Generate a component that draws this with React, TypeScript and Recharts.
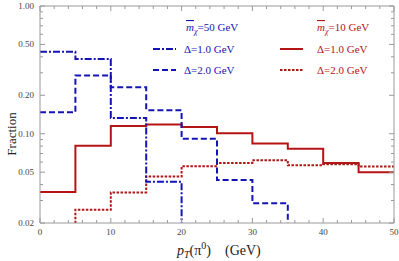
import { LineChart, Line, XAxis, YAxis } from "recharts"

// bin edges of the pT histogram (GeV); the last edge repeats the last bin so stepAfter closes it
const edges = [0, 5, 10, 15, 20, 25, 30, 35, 40, 45, 50]
const FLOOR = 0.005 // below the plotted range, used where a histogram falls off the axis

// mχ = 50 GeV
const m50d1: (number | null)[] = [0.438, 0.384, 0.133, 0.042, FLOOR, null, null, null, null, null, null]
const m50d2: (number | null)[] = [0.147, 0.286, 0.231, 0.153, 0.0914, 0.0435, 0.0285, FLOOR, null, null, null]
// mχ = 10 GeV
const m10d1 = [0.0349, 0.0806, 0.1147, 0.118, 0.113, 0.101, 0.084, 0.0764, 0.059, 0.0499, 0.0499]
const m10d2 = [FLOOR, 0.0254, 0.0347, 0.0462, 0.0556, 0.059, 0.0619, 0.0566, 0.0577, 0.0553, 0.0553]

const yMajor = [0.02, 0.05, 0.1, 0.2, 0.5, 1]
const yMinor = [0.03, 0.04, 0.06, 0.07, 0.08, 0.09, 0.3, 0.4, 0.6, 0.7, 0.8, 0.9]
const xTicks = [0, 2, 4, 6, 8, 10, 12, 14, 16, 18, 20, 22, 24, 26, 28, 30, 32, 34, 36, 38, 40, 42, 44, 46, 48, 50]

const data = edges.map((x, i) => ({
  x,
  a: m50d1[i],
  b: m50d2[i],
  c: m10d1[i],
  d: m10d2[i],
}))

const BLUE = "#1414b4"
const RED = "#b41414"
const FRAME = "#9a9a9a"
const FONT = "'Liberation Serif', 'DejaVu Serif', serif"

const yTicks = [...yMajor, ...yMinor].sort((p, q) => p - q)

function LeftTick(props: any) {
  const { x, y, payload } = props
  const major = yMajor.includes(payload.value)
  return (
    <g>
      <line x1={x} x2={x + (major ? 5 : 3)} y1={y} y2={y} stroke={FRAME} />
      {major && (
        <text x={x - 6} y={y + 3} textAnchor="end" fontSize={9} fill="#444" fontFamily={FONT}>
          {payload.value.toFixed(2)}
        </text>
      )}
    </g>
  )
}

function RightTick(props: any) {
  const { x, y, payload } = props
  const major = yMajor.includes(payload.value)
  return <line x1={x} x2={x - (major ? 5 : 3)} y1={y} y2={y} stroke={FRAME} />
}

function BottomTick(props: any) {
  const { x, y, payload } = props
  const major = payload.value % 10 === 0
  return (
    <g>
      <line x1={x} x2={x} y1={y} y2={y - (major ? 5 : 3)} stroke={FRAME} />
      {major && (
        <text x={x} y={y + 12} textAnchor="middle" fontSize={9} fill="#444" fontFamily={FONT}>
          {payload.value}
        </text>
      )}
    </g>
  )
}

function TopTick(props: any) {
  const { x, y, payload } = props
  const major = payload.value % 10 === 0
  return <line x1={x} x2={x} y1={y} y2={y + (major ? 5 : 3)} stroke={FRAME} />
}

export default function App() {
  return (
    <div style={{ position: "absolute", left: 0, top: 0, width: 399, height: 261, background: "#fff" }}>
      <LineChart width={399} height={261} data={data} margin={{ top: 5, right: 4, left: 39, bottom: 37 }}>
        <XAxis
          xAxisId="b"
          dataKey="x"
          type="number"
          domain={[0, 50]}
          ticks={xTicks}
          interval={0}
          height={1}
          tickSize={0}
          tickMargin={0}
          tickLine={false}
          stroke={FRAME}
          tick={<BottomTick />}
        />
        <XAxis
          xAxisId="t"
          orientation="top"
          dataKey="x"
          type="number"
          domain={[0, 50]}
          ticks={xTicks}
          interval={0}
          height={1}
          tickSize={0}
          tickMargin={0}
          tickLine={false}
          stroke={FRAME}
          tick={<TopTick />}
        />
        <YAxis
          yAxisId="l"
          scale="log"
          domain={[0.02, 1]}
          allowDataOverflow
          ticks={yTicks}
          interval={0}
          width={1}
          tickSize={0}
          tickMargin={0}
          tickLine={false}
          stroke={FRAME}
          tick={<LeftTick />}
        />
        <YAxis
          yAxisId="r"
          orientation="right"
          scale="log"
          domain={[0.02, 1]}
          allowDataOverflow
          ticks={yTicks}
          interval={0}
          width={1}
          tickSize={0}
          tickMargin={0}
          tickLine={false}
          stroke={FRAME}
          tick={<RightTick />}
        />
        <Line xAxisId="b" yAxisId="l" type="stepAfter" dataKey="c" stroke={RED} strokeWidth={2} dot={false} isAnimationActive={false} />
        <Line xAxisId="b" yAxisId="l" type="stepAfter" dataKey="d" stroke={RED} strokeWidth={2} strokeDasharray="2.5 1.5" dot={false} isAnimationActive={false} />
        <Line xAxisId="b" yAxisId="l" type="stepAfter" dataKey="a" stroke={BLUE} strokeWidth={2} strokeDasharray="7 2 2 2" dot={false} isAnimationActive={false} />
        <Line xAxisId="b" yAxisId="l" type="stepAfter" dataKey="b" stroke={BLUE} strokeWidth={2} strokeDasharray="6 3" dot={false} isAnimationActive={false} />
      </LineChart>
      <svg width={399} height={261} style={{ position: "absolute", left: 0, top: 0, pointerEvents: "none" }} fontFamily={FONT}>
        <text x={186} y={31} fontSize={11} fill={BLUE}>
          <tspan fontStyle="italic" textDecoration="overline">m</tspan>
          <tspan fontStyle="italic" fontSize={8} dy={3}>χ</tspan>
          <tspan dy={-3}>=50 GeV</tspan>
        </text>
        <line x1={153} x2={176} y1={49} y2={49} stroke={BLUE} strokeWidth={2} strokeDasharray="7 2 2 2" />
        <text x={184} y={53} fontSize={11} fill={BLUE}>Δ=1.0 GeV</text>
        <line x1={153} x2={176} y1={70} y2={70} stroke={BLUE} strokeWidth={2} strokeDasharray="6 3" />
        <text x={184} y={74} fontSize={11} fill={BLUE}>Δ=2.0 GeV</text>

        <text x={317} y={31} fontSize={11} fill={RED}>
          <tspan fontStyle="italic" textDecoration="overline">m</tspan>
          <tspan fontStyle="italic" fontSize={8} dy={3}>χ</tspan>
          <tspan dy={-3}>=10 GeV</tspan>
        </text>
        <line x1={280} x2={303} y1={49} y2={49} stroke={RED} strokeWidth={2} />
        <text x={317} y={53} fontSize={11} fill={RED}>Δ=1.0 GeV</text>
        <line x1={280} x2={303} y1={70} y2={70} stroke={RED} strokeWidth={2} strokeDasharray="2.5 1.5" />
        <text x={317} y={74} fontSize={11} fill={RED}>Δ=2.0 GeV</text>

        <text x={16} y={134} fontSize={13} fill="#222" textAnchor="middle" transform="rotate(-90 16 134)">Fraction</text>
        <text x={177} y={255} fontSize={14} fill="#222">
          <tspan fontStyle="italic">p</tspan>
          <tspan fontStyle="italic" fontSize={10} dy={3}>T</tspan>
          <tspan dy={-3}>(π</tspan>
          <tspan fontSize={10} dy={-6}>0</tspan>
          <tspan dy={6}>)</tspan>
          <tspan dx={14}>(GeV)</tspan>
        </text>
      </svg>
    </div>
  )
}
